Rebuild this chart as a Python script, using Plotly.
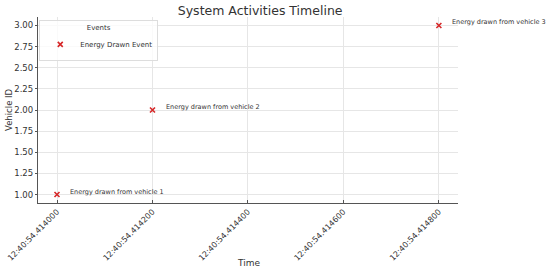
import plotly.graph_objects as go

# Data
event_times = ["2024-01-01 12:40:54.414000", "2024-01-01 12:40:54.414200", "2024-01-01 12:40:54.414800"]
vehicle_ids = [1, 2, 3]
event_labels = ["Energy drawn from vehicle 1", "Energy drawn from vehicle 2", "Energy drawn from vehicle 3"]
tick_vals = ["2024-01-01 12:40:54.414000", "2024-01-01 12:40:54.414200", "2024-01-01 12:40:54.414400",
             "2024-01-01 12:40:54.414600", "2024-01-01 12:40:54.414800"]
tick_text = ["12:40:54.414000", "12:40:54.414200", "12:40:54.414400", "12:40:54.414600", "12:40:54.414800"]
y_ticks = [1.00, 1.25, 1.50, 1.75, 2.00, 2.25, 2.50, 2.75, 3.00]

FONT = "DejaVu Sans"
TXT = "#333333"

fig = go.Figure()
fig.add_trace(go.Scatter(
    x=event_times, y=vehicle_ids, mode="markers", name="Energy Drawn Event",
    marker=dict(symbol="x-thin", size=5, color="#d62728", line=dict(width=1.6, color="#d62728")),
))

for t, v, lab in zip(event_times, vehicle_ids, event_labels):
    fig.add_annotation(x=t, y=v, text=lab, showarrow=False, xanchor="left", yanchor="middle",
                       xshift=11, yshift=3, font=dict(family=FONT, size=6.5, color=TXT))

# axis titles as annotations for exact placement
fig.add_annotation(x=0.5, y=-0.323, xref="paper", yref="paper", text="Time", showarrow=False,
                   xanchor="center", yanchor="middle", font=dict(family=FONT, size=9, color=TXT))
fig.add_annotation(x=-0.069, y=0.5, xref="paper", yref="paper", text="Vehicle ID", showarrow=False,
                   textangle=-90, xanchor="center", yanchor="middle", font=dict(family=FONT, size=8.5, color=TXT))

fig.update_layout(
    width=550, height=273,
    margin=dict(l=38, r=92, t=17, b=70, autoexpand=False),
    paper_bgcolor="white", plot_bgcolor="white",
    font=dict(family=FONT, color=TXT),
    title=dict(text="System Activities Timeline", x=0.473, xanchor="center", y=0.962, yanchor="middle",
               yref="container", automargin=False,
               font=dict(family=FONT, size=12.5, color=TXT)),
    showlegend=True,
    legend=dict(x=0.003, y=0.985, xanchor="left", yanchor="top",
                bgcolor="rgba(255,255,255,0.8)", bordercolor="#dddddd", borderwidth=1,
                title=dict(text="Events", side="top center", font=dict(family=FONT, size=7, color=TXT)),
                font=dict(family=FONT, size=7, color=TXT),
                itemwidth=30, tracegroupgap=0),
    xaxis=dict(
        type="date", automargin=False,
        range=["2024-01-01 12:40:54.41396", "2024-01-01 12:40:54.41484"],
        tickmode="array", tickvals=tick_vals, ticktext=tick_text, tickangle=-45,
        tickfont=dict(family=FONT, size=8, color=TXT),
        showgrid=True, gridcolor="#e6e6e6", gridwidth=1,
        showline=True, linecolor="#555555", linewidth=1.2,
        ticks="inside", ticklen=3, tickcolor="#555555",
        zeroline=False,
    ),
    yaxis=dict(
        automargin=False,
        range=[0.9, 3.1],
        tickmode="array", tickvals=y_ticks, ticktext=[f"{v:.2f}" for v in y_ticks],
        tickfont=dict(family=FONT, size=8.5, color=TXT),
        showgrid=True, gridcolor="#e6e6e6", gridwidth=1,
        showline=True, linecolor="#555555", linewidth=1.2,
        ticks="outside", ticklen=2, tickcolor="#555555",
        zeroline=False,
    ),
)

fig.write_html("out.html", config={"displayModeBar": False},
               post_script="document.body.style.margin='0';")
